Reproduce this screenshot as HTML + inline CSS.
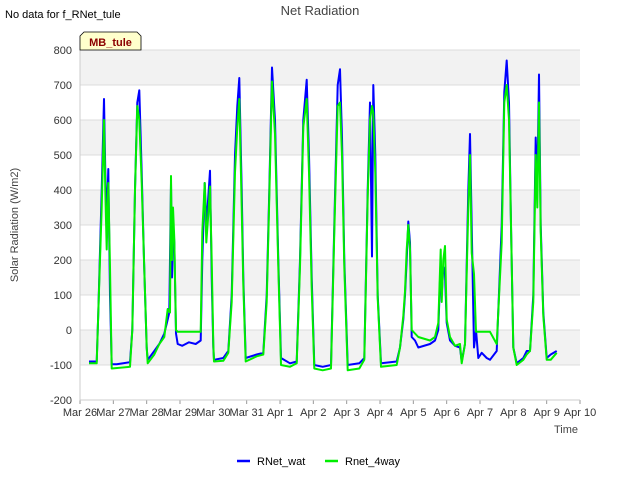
<!DOCTYPE html>
<html><head><meta charset="utf-8"><style>
body{margin:0;background:#fff;font-family:"Liberation Sans",sans-serif}
svg text{font-family:"Liberation Sans",sans-serif}
</style></head><body>
<svg width="640" height="480" xmlns="http://www.w3.org/2000/svg">
<g id="bands"></g><g id="grid"></g><g id="axes"></g><g id="series"></g>
<text x="5" y="18" font-size="11">No data for f_RNet_tule</text>
<text x="320" y="15" font-size="13" fill="#444" text-anchor="middle">Net Radiation</text>
<text x="18" y="225" font-size="11" fill="#444" text-anchor="middle" transform="rotate(-90 18 225)">Solar Radiation (W/m2)</text>
<text x="578" y="433" font-size="11" fill="#444" text-anchor="end">Time</text>
<g><path d="M80,50 L80,36 L84,32 L137,32 L141,36 L141,50 Z" fill="#ffffcc" stroke="#000" stroke-width="0.8"/><text x="110.5" y="46" font-size="11" font-weight="bold" fill="#8b0000" text-anchor="middle">MB_tule</text></g>
<g><line x1="237" y1="461" x2="250" y2="461" stroke="#0000ff" stroke-width="2.5"/><text x="257" y="465" font-size="11">RNet_wat</text></g>
<g><line x1="325" y1="461" x2="338" y2="461" stroke="#00ee00" stroke-width="2.5"/><text x="345" y="465" font-size="11">Rnet_4way</text></g>
</svg>
<script>
const yTicks=[-200,-100,0,100,200,300,400,500,600,700,800];
const xTickLabels=["Mar 26","Mar 27","Mar 28","Mar 29","Mar 30","Mar 31","Apr 1","Apr 2","Apr 3","Apr 4","Apr 5","Apr 6","Apr 7","Apr 8","Apr 9","Apr 10"];
const watT=[0.27,0.5,0.55,0.65,0.72,0.76,0.8,0.85,0.9,0.95,1.1,1.5,1.57,1.65,1.72,1.78,1.85,1.92,2.0,2.03,2.23,2.38,2.53,2.63,2.68,2.73,2.76,2.79,2.83,2.88,2.93,3.07,3.27,3.47,3.62,3.67,3.74,3.79,3.85,3.9,3.95,4.0,4.02,4.3,4.45,4.55,4.65,4.72,4.78,4.85,4.9,4.97,5.3,5.5,5.6,5.68,5.76,5.85,5.95,6.03,6.3,6.5,6.6,6.7,6.8,6.87,6.95,7.03,7.28,7.53,7.63,7.73,7.8,7.86,7.93,8.03,8.38,8.53,8.63,8.7,8.76,8.8,8.86,8.93,9.03,9.5,9.6,9.7,9.75,9.8,9.85,9.9,9.95,10.05,10.15,10.5,10.65,10.75,10.82,10.85,10.9,10.95,11.0,11.1,11.25,11.4,11.45,11.55,11.65,11.7,11.75,11.82,11.88,11.95,12.05,12.2,12.3,12.5,12.65,12.73,12.8,12.87,12.93,13.0,13.1,13.3,13.4,13.5,13.6,13.67,13.72,13.77,13.82,13.9,14.0,14.12,14.3];
const watV=[-90,-90,50,400,660,450,300,460,100,-98,-98,-92,0,400,650,685,450,200,-50,-85,-60,-40,-10,30,50,420,150,300,250,-10,-40,-45,-35,-40,-30,200,420,300,380,455,150,-50,-85,-80,-60,100,500,640,720,400,150,-80,-70,-65,100,400,750,600,200,-80,-95,-90,200,600,715,500,150,-100,-105,-100,300,700,745,550,200,-100,-95,-80,400,650,210,700,500,100,-95,-90,-50,30,100,200,310,250,-20,-30,-50,-40,-30,0,200,100,180,160,20,-30,-45,-50,-90,-40,400,560,300,-50,0,-80,-65,-80,-85,-60,300,680,770,650,300,-50,-95,-80,-60,-60,100,550,400,730,300,50,-80,-70,-60];
const wayT=[0.27,0.5,0.55,0.65,0.72,0.76,0.8,0.85,0.9,0.95,1.5,1.57,1.65,1.72,1.78,1.85,1.92,2.0,2.03,2.23,2.38,2.53,2.63,2.7,2.73,2.76,2.79,2.83,2.88,2.93,3.47,3.62,3.67,3.74,3.79,3.85,3.9,3.95,4.0,4.02,4.3,4.45,4.55,4.65,4.72,4.78,4.85,4.9,4.97,5.3,5.5,5.6,5.68,5.76,5.85,5.95,6.03,6.3,6.5,6.6,6.7,6.8,6.87,6.95,7.03,7.28,7.53,7.63,7.73,7.8,7.86,7.93,8.03,8.38,8.53,8.63,8.7,8.76,8.8,8.86,8.93,9.03,9.5,9.6,9.7,9.75,9.8,9.85,9.9,9.95,10.05,10.15,10.5,10.65,10.75,10.82,10.85,10.9,10.95,11.0,11.1,11.25,11.4,11.45,11.55,11.65,11.7,11.75,11.82,11.88,11.95,12.3,12.5,12.65,12.73,12.8,12.87,12.93,13.0,13.1,13.3,13.4,13.5,13.6,13.67,13.72,13.77,13.82,13.9,14.0,14.12,14.3];
const wayV=[-95,-95,50,350,600,400,230,420,180,-110,-105,0,400,640,600,420,200,-50,-95,-70,-40,-20,60,50,440,200,350,260,0,-5,-5,-5,280,420,250,330,410,200,-40,-90,-88,-65,80,450,580,660,350,130,-90,-75,-70,80,380,710,560,180,-100,-105,-95,180,580,660,450,120,-110,-115,-110,280,640,650,500,180,-115,-110,-85,380,600,640,620,450,90,-105,-100,-50,40,110,230,300,230,0,-10,-20,-30,-20,20,230,80,200,240,30,-20,-45,-40,-95,-40,350,500,220,160,-5,-5,-5,-40,250,650,700,600,300,-50,-100,-85,-70,-60,80,500,350,650,280,40,-85,-85,-65];
const NS="http://www.w3.org/2000/svg";
const X0=80,X1=580,Y0=50,Y1=400;
const xs=t=>X0+(X1-X0)*t/15;
const ys=v=>Y1-(v+200)*(Y1-Y0)/1000;
function mk(tag,attrs,parent){const e=document.createElementNS(NS,tag);for(const k in attrs)e.setAttribute(k,attrs[k]);document.getElementById(parent).appendChild(e);return e;}
for(let i=0;i<yTicks.length-1;i++){if(i%2===1){const b=mk('rect',{x:X0,y:ys(yTicks[i+1]),width:X1-X0,height:ys(yTicks[i])-ys(yTicks[i+1]),fill:'#f2f2f2'},'bands');

}}
yTicks.forEach(v=>{const l=mk('line',{x1:X0,x2:X1,y1:ys(v),y2:ys(v),stroke:'#dcdcdc','stroke-width':1},'grid');


const t=mk('text',{x:X0-8,y:ys(v)+4,'font-size':11,fill:'#333','text-anchor':'end'},'axes');t.textContent=v;

});
xTickLabels.forEach((s,i)=>{const tk=mk('line',{x1:xs(i),x2:xs(i),y1:Y1,y2:Y1+4,stroke:'#999'},'axes');


const t=mk('text',{x:xs(i),y:Y1+16,'font-size':11,fill:'#333','text-anchor':'middle'},'axes');t.textContent=s;

});
const ax=mk('path',{d:`M${X0},${Y0} L${X0},${Y1} L${X1},${Y1}`,fill:'none',stroke:'#ccc'},'axes');


function line(T,V,color,name){const d=T.map((t,i)=>(i?'L':'M')+xs(t).toFixed(1)+','+ys(V[i]).toFixed(1)).join(' ');
const p=mk('path',{d:d,fill:'none',stroke:color,'stroke-width':2,'stroke-linejoin':'round'},'series');

}
line(watT,watV,'#0000ff','rnet-wat-line');
line(wayT,wayV,'#00ee00','rnet-4way-line');
</script>
</body></html>
